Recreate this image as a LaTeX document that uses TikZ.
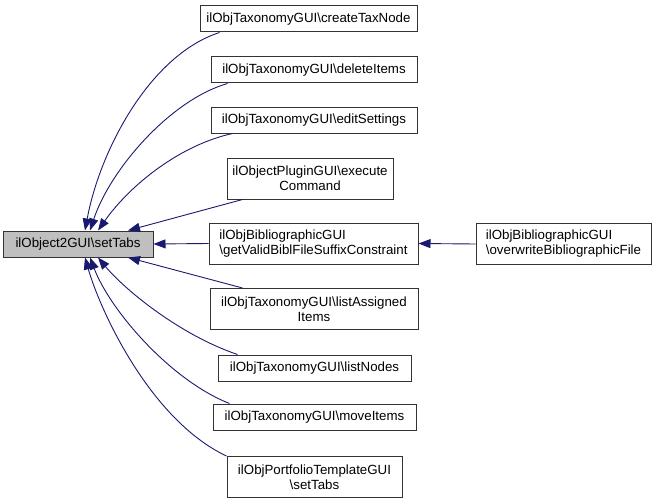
\documentclass[tikz,border=0pt]{standalone}
\usepackage{fontspec}
\setmainfont{Liberation Sans}
\usetikzlibrary{arrows.meta}
\definecolor{edgeblue}{HTML}{191970}
\definecolor{mainfill}{HTML}{BFBFBF}
\tikzset{
  box/.style={draw=black!80, line width=1pt, rectangle, inner sep=0pt, align=center,
    font=\fontsize{13.3}{15}\selectfont, text=black},
  box1/.style={box, minimum height=26pt},
  box2/.style={box, minimum height=41pt},
  edge/.style={draw=edgeblue, line width=0.9pt, -{Triangle[length=12pt,width=9pt]}}
}
\begin{document}
\begin{tikzpicture}[x=1pt,y=-1pt]
\useasboundingbox (0,0) rectangle (656,503);
\node[box1, fill=mainfill, minimum width=150pt] (main) at (78,244) {ilObject2GUI\textbackslash setTabs};
\node[box1, minimum width=217pt] (n1) at (308.5,19) {ilObjTaxonomyGUI\textbackslash createTaxNode};
\node[box1, minimum width=206pt] (n2) at (314,70) {ilObjTaxonomyGUI\textbackslash deleteItems};
\node[box1, minimum width=206pt] (n3) at (314,120) {ilObjTaxonomyGUI\textbackslash editSettings};
\node[box2, minimum width=166pt] (n4) at (310,178.5) {ilObjectPluginGUI\textbackslash execute\\Command};
\node[box2, minimum width=209pt, align=left] (n5) at (313.5,243.5) {ilObjBibliographicGUI\\\textbackslash getValidBiblFileSuffixConstraint};
\node[box2, minimum width=208pt] (n6) at (314,309) {ilObjTaxonomyGUI\textbackslash listAssigned\\Items};
\node[box1, minimum width=193pt] (n7) at (314.5,368) {ilObjTaxonomyGUI\textbackslash listNodes};
\node[box1, minimum width=203pt] (n8) at (314.5,417) {ilObjTaxonomyGUI\textbackslash moveItems};
\node[box2, minimum width=175pt] (n9) at (314.5,477) {ilObjPortfolioTemplateGUI\\\textbackslash setTabs};
\node[box2, minimum width=175pt, align=left] (ov) at (563.5,244) {ilObjBibliographicGUI\\\textbackslash overwriteBibliographicFile};

\draw[edge] ([xshift=20pt]n1.south west) .. controls (150,55) and (100,150) .. ([xshift=7pt]main.north);
\draw[edge] ([xshift=17pt]n2.south west) .. controls (170,100) and (110,170) .. ([xshift=12pt]main.north);
\draw[edge] ([xshift=22pt]n3.south west) .. controls (180,145) and (130,185) .. ([xshift=20pt]main.north);
\draw[edge] ([xshift=16pt]n4.south west) -- ([xshift=50pt]main.north);
\draw[edge] (n5.west) -- (main.east);
\draw[edge] ([xshift=33pt]n6.north west) -- ([xshift=50pt]main.south);
\draw[edge] ([xshift=20pt]n7.north west) .. controls (180,335) and (125,290) .. ([xshift=20pt]main.south);
\draw[edge] ([xshift=17pt]n8.north west) .. controls (170,380) and (110,310) .. ([xshift=12pt]main.south);
\draw[edge] (n9.north west) .. controls (150,420) and (100,310) .. ([xshift=7pt]main.south);
\draw[edge] (ov.west) -- (n5.east);
\end{tikzpicture}
\end{document}
